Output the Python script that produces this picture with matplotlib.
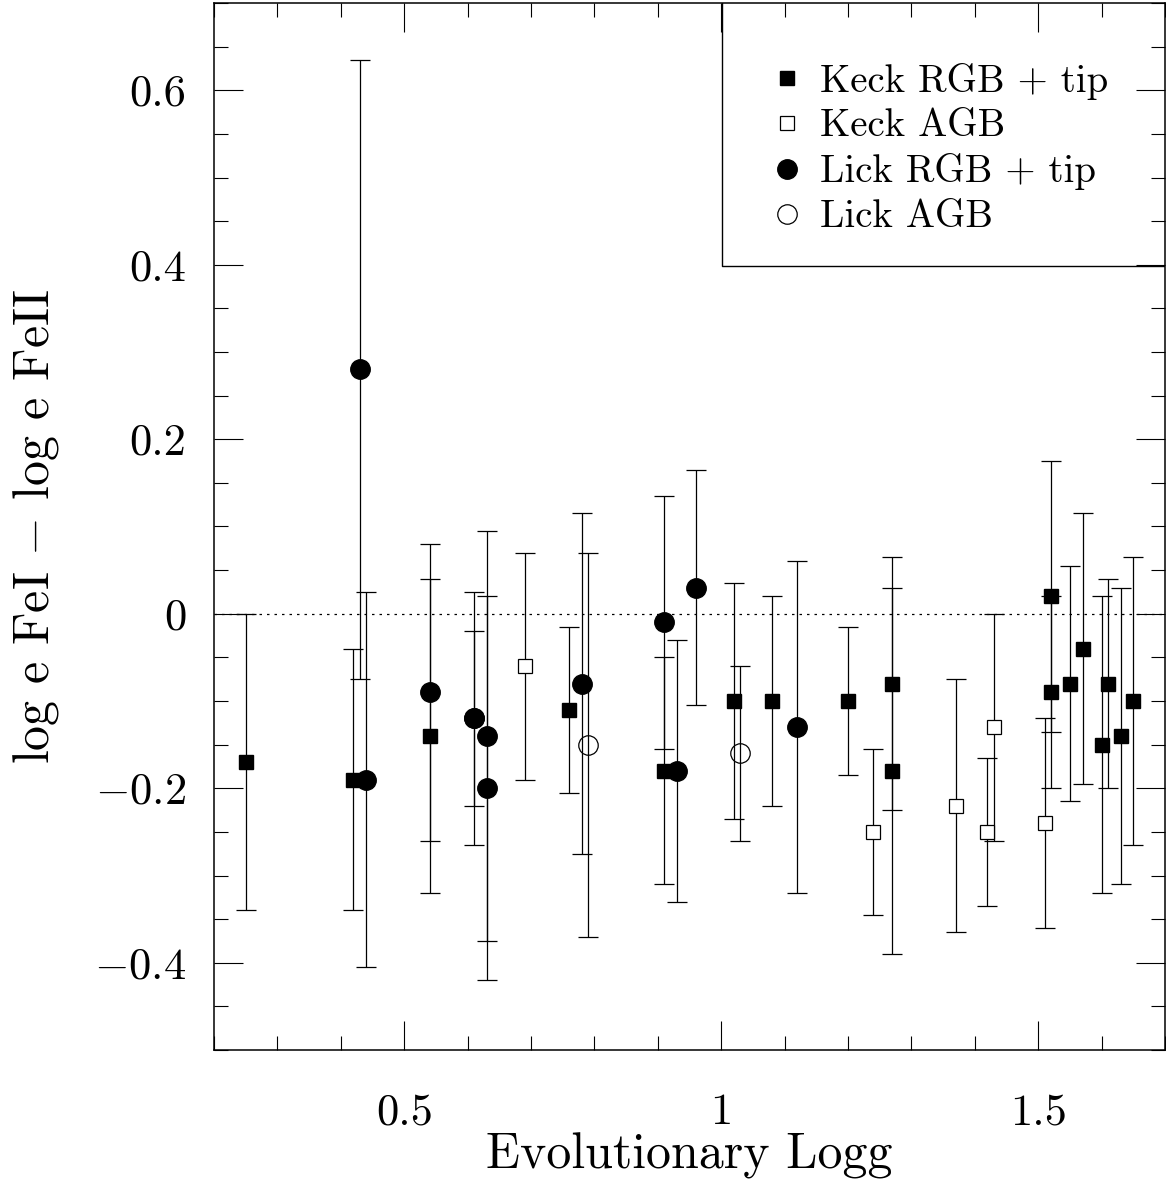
"""FeI - FeII abundance difference against evolutionary log g."""

import matplotlib

matplotlib.use("Agg")
import matplotlib.pyplot as plt
from matplotlib.lines import Line2D

plt.rcParams["font.family"] = ["cmr10", "DejaVu Serif"]
plt.rcParams["mathtext.fontset"] = "cm"
plt.rcParams["axes.formatter.use_mathtext"] = True

# Keck RGB + tip (filled squares)
keck_rgb_x = [0.25, 0.42, 0.54, 0.76, 0.91, 1.02, 1.08, 1.20, 1.27, 1.27,
              1.52, 1.52, 1.55, 1.57, 1.60, 1.61, 1.63, 1.65]
keck_rgb_y = [-0.17, -0.19, -0.14, -0.11, -0.18, -0.10, -0.10, -0.10, -0.08, -0.18,
              0.02, -0.09, -0.08, -0.04, -0.15, -0.08, -0.14, -0.10]
keck_rgb_err = [0.17, 0.15, 0.18, 0.095, 0.13, 0.135, 0.12, 0.085, 0.145, 0.21,
                0.155, 0.11, 0.135, 0.155, 0.17, 0.12, 0.17, 0.165]

# Keck AGB (open squares)
keck_agb_x = [0.69, 1.24, 1.37, 1.42, 1.43, 1.51]
keck_agb_y = [-0.06, -0.25, -0.22, -0.25, -0.13, -0.24]
keck_agb_err = [0.13, 0.095, 0.145, 0.085, 0.13, 0.12]

# Lick RGB + tip (filled circles)
lick_rgb_x = [0.43, 0.44, 0.54, 0.61, 0.61, 0.63, 0.63, 0.78, 0.91, 0.93, 0.96, 1.12]
lick_rgb_y = [0.28, -0.19, -0.09, -0.12, -0.12, -0.14, -0.20, -0.08, -0.01, -0.18, 0.03, -0.13]
lick_rgb_err = [0.355, 0.215, 0.17, 0.145, 0.10, 0.235, 0.22, 0.195, 0.145, 0.15, 0.135, 0.19]

# Lick AGB (open circles)
lick_agb_x = [0.79, 1.03]
lick_agb_y = [-0.15, -0.16]
lick_agb_err = [0.22, 0.10]

x_ticks = [0.5, 1.0, 1.5]
x_tick_labels = ["0.5", "1", "1.5"]
y_ticks = [-0.4, -0.2, 0.0, 0.2, 0.4, 0.6]
y_tick_labels = ["$-0.4$", "$-0.2$", "0", "0.2", "0.4", "0.6"]

fig = plt.figure(figsize=(11.66, 11.80), dpi=100)
ax = fig.add_axes([214 / 1166, 1 - 1050 / 1180, 951 / 1166, 1047 / 1180])

ax.set_xlim(0.2, 1.7)
ax.set_ylim(-0.5, 0.7)

err_style = dict(fmt="none", ecolor="black", elinewidth=0.9, capsize=7, capthick=0.9)
ax.errorbar(keck_rgb_x, keck_rgb_y, yerr=keck_rgb_err, **err_style)
ax.errorbar(keck_agb_x, keck_agb_y, yerr=keck_agb_err, **err_style)
ax.errorbar(lick_rgb_x, lick_rgb_y, yerr=lick_rgb_err, **err_style)
ax.errorbar(lick_agb_x, lick_agb_y, yerr=lick_agb_err, **err_style)

h1, = ax.plot(keck_rgb_x, keck_rgb_y, ls="none", marker="s", ms=10.5,
              mfc="black", mec="black", label="Keck RGB + tip", zorder=3)
h2, = ax.plot(keck_agb_x, keck_agb_y, ls="none", marker="s", ms=10,
              mfc="white", mec="black", mew=0.9, label="Keck AGB", zorder=3)
h3, = ax.plot(lick_rgb_x, lick_rgb_y, ls="none", marker="o", ms=14,
              mfc="black", mec="black", label="Lick RGB + tip", zorder=3)
h4, = ax.plot(lick_agb_x, lick_agb_y, ls="none", marker="o", ms=14,
              mfc="none", mec="black", mew=0.9, label="Lick AGB", zorder=3)

ax.axhline(0.0, color="black", lw=0.9, ls=(0, (2, 4)), zorder=1)

# legend box: left and bottom edges, the rest are the axes spines
box_left, box_bottom = 0.534, 0.749
ax.add_line(Line2D([box_left, box_left, 1.0], [1.0, box_bottom, box_bottom],
                   transform=ax.transAxes, color="black", lw=1.0))
ax.legend(handles=[h1, h2, h3, h4], loc="upper left",
          bbox_to_anchor=(0.586, 0.943), frameon=False, fontsize=28,
          handlelength=0.8, handletextpad=0.45, labelspacing=0.23,
          borderaxespad=0.0, borderpad=0.0)

ax.set_xticks(x_ticks)
ax.set_xticklabels(x_tick_labels)
ax.set_yticks(y_ticks)
ax.set_yticklabels(y_tick_labels)
ax.set_xticks([0.2 + 0.1 * i for i in range(16)], minor=True)
ax.set_yticks([-0.5 + 0.05 * i for i in range(25)], minor=True)
ax.tick_params(which="both", direction="in", top=True, right=True, width=0.8)
ax.tick_params(which="major", length=21, labelsize=32)
ax.tick_params(axis="x", which="major", pad=31)
ax.tick_params(axis="y", which="major", pad=20)
ax.tick_params(which="minor", length=10)
for spine in ax.spines.values():
    spine.set_linewidth(1.1)

ax.set_xlabel("Evolutionary Logg", fontsize=36, labelpad=0)
ax.set_ylabel("log e FeI $-$ log e FeII", fontsize=36, labelpad=24)

fig.savefig("out.png", dpi=100)
